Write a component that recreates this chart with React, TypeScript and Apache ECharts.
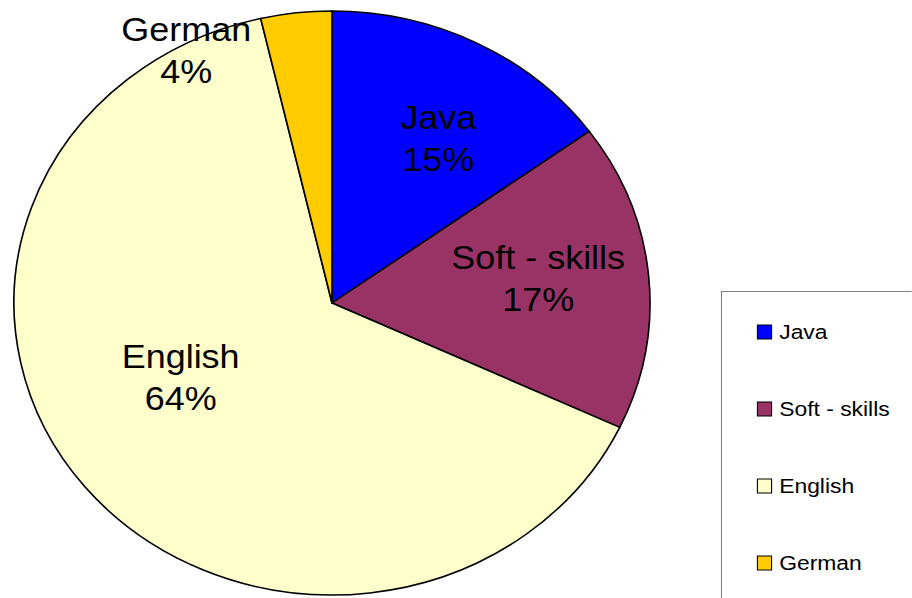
import React, { useEffect, useRef } from "react";
import * as echarts from "echarts";

const categories = ["Java", "Soft - skills", "English", "German"];
const values = [15, 17, 64.4, 3.6];
const colors = ["#0000FF", "#993366", "#FFFFCC", "#FFCC00"];

// layout (not data): label nudges relative to ECharts' "inside" spot
const labelNudges = [
  [30, -32],
  [41, -10],
  [-23, -19],
  [-117, -104],
];

const SX = 318 / 292; // the reference pie is horizontally stretched
const W = 912 / SX;
const H = 598;

export default function App() {
  const ref = useRef<HTMLDivElement>(null);
  useEffect(() => {
    if (!ref.current) return;
    const chart = echarts.init(ref.current, null, { renderer: "svg" });
    const font = "'Liberation Sans', Arial, sans-serif";
    chart.setOption({
      animation: false,
      color: colors,
      textStyle: { fontFamily: font },
      graphic: [
        {
          type: "rect",
          left: 662,
          top: 291,
          shape: { width: 300, height: 400 },
          style: { fill: "#fff", stroke: "#808080", lineWidth: 1 },
          z: 0,
        },
      ],
      legend: {
        orient: "vertical",
        left: 690,
        top: 316,
        itemWidth: 13,
        itemHeight: 14,
        itemGap: 55,
        icon: "rect",
        itemStyle: { borderColor: "#000", borderWidth: 1 },
        textStyle: {
          fontSize: 21,
          lineHeight: 22,
          color: "#000",
          fontFamily: font,
          padding: [0, 0, 0, 2],
        },
        data: categories,
        z: 5,
      },
      series: [
        {
          type: "pie",
          center: [332 / SX, 303],
          radius: 292,
          startAngle: 90,
          clockwise: true,
          percentPrecision: 0,
          avoidLabelOverlap: false,
          itemStyle: { borderColor: "#000", borderWidth: 1.5 },
          label: {
            show: true,
            position: "inside",
            formatter: "{b}\n{d}%",
            fontSize: 33,
            lineHeight: 42,
            color: "#000",
            fontFamily: font,
          },
          labelLayout: (p: any) => ({
            dx: labelNudges[p.dataIndex][0],
            dy: labelNudges[p.dataIndex][1],
          }),
          emphasis: { disabled: true },
          data: categories.map((name, i) => ({ name, value: values[i] })),
        },
      ],
    });
    return () => chart.dispose();
  }, []);
  return (
    <div
      style={{
        position: "fixed",
        left: 0,
        top: 0,
        width: 912,
        height: H,
        overflow: "hidden",
        background: "#fff",
      }}
    >
      <div
        ref={ref}
        style={{
          width: W,
          height: H,
          transform: `scaleX(${SX})`,
          transformOrigin: "0 0",
        }}
      />
    </div>
  );
}
